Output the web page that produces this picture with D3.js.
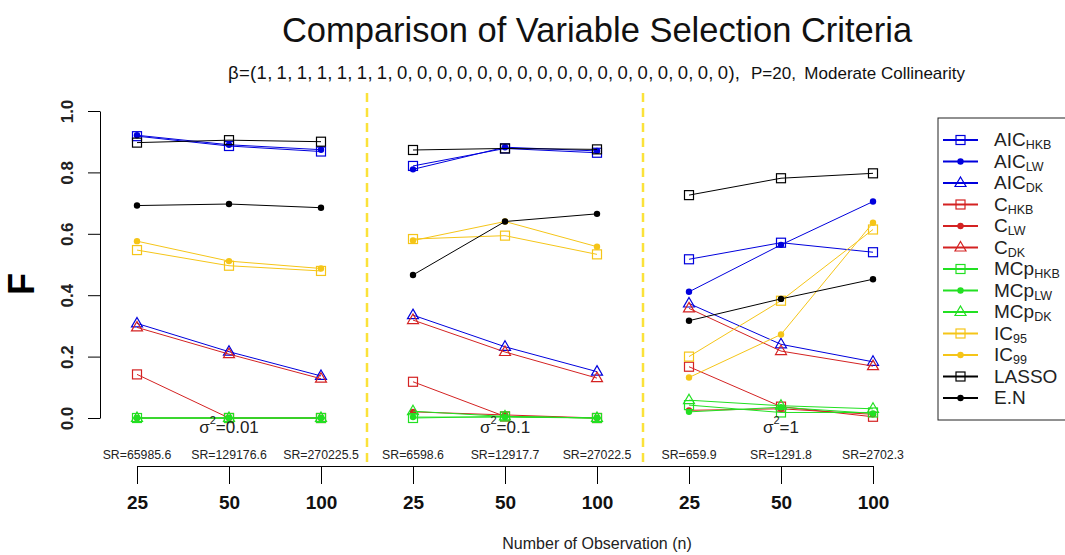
<!DOCTYPE html>
<html>
<head>
<meta charset="utf-8">
<script src="https://cdn.jsdelivr.net/npm/d3@7"></script>
<style>
  body { margin: 0; background: #fff; }
  text { font-family: "Liberation Sans", Arial, sans-serif; }
</style>
</head>
<body>
<svg width="1065" height="555"></svg>
<script>
// x positions: 3 sample sizes in each of 3 sigma panels
var nLabels = ["25", "50", "100", "25", "50", "100", "25", "50", "100"];
var srLabels = ["SR=65985.6", "SR=129176.6", "SR=270225.5",
                "SR=6598.6", "SR=12917.7", "SR=27022.5",
                "SR=659.9", "SR=1291.8", "SR=2702.3"];
var sigmaLabels = ["0.01", "0.1", "1"];
var yTicks = [0, 0.2, 0.4, 0.6, 0.8, 1.0];
var betaVec = [1, 1, 1, 1, 1, 1, 1, 0, 0, 0, 0, 0, 0, 0, 0, 0, 0, 0, 0, 0, 0, 0, 0, 0];

// F values
var aicHKB = [0.918, 0.886, 0.868, 0.821, 0.878, 0.864, 0.517, 0.571, 0.540];
var aicLW  = [0.921, 0.890, 0.874, 0.810, 0.882, 0.870, 0.411, 0.564, 0.705];
var aicDK  = [0.308, 0.216, 0.137, 0.335, 0.232, 0.151, 0.373, 0.240, 0.183];
var cHKB   = [0.142, 0.000, 0.000, 0.118, 0.005, 0.000, 0.167, 0.037, 0.004];
var cLW    = [0.000, 0.000, 0.000, 0.020, 0.010, 0.000, 0.025, 0.030, 0.012];
var cDK    = [0.295, 0.208, 0.128, 0.319, 0.215, 0.130, 0.357, 0.218, 0.169];
var mcpHKB = [0.000, 0.000, 0.000, 0.000, 0.005, 0.000, 0.042, 0.018, 0.018];
var mcpLW  = [0.000, 0.000, 0.000, 0.003, 0.003, 0.000, 0.020, 0.035, 0.015];
var mcpDK  = [0.000, 0.000, 0.000, 0.022, 0.005, 0.000, 0.058, 0.040, 0.030];
var ic95   = [0.547, 0.496, 0.479, 0.583, 0.594, 0.533, 0.200, 0.382, 0.614];
var ic99   = [0.576, 0.511, 0.487, 0.578, 0.640, 0.558, 0.132, 0.272, 0.636];
var lasso  = [0.897, 0.905, 0.900, 0.873, 0.878, 0.875, 0.726, 0.781, 0.797];
var en     = [0.692, 0.697, 0.685, 0.466, 0.640, 0.665, 0.317, 0.388, 0.452];

var blue = "#0000dd", red = "#d42222", green = "#22e022", gold = "#f5c518", black = "#000";

// name, subscript, values, colour, symbol
var series = [
  {name: "AIC", sub: "HKB", v: aicHKB, col: blue, pch: "sq"},
  {name: "AIC", sub: "LW", v: aicLW, col: blue, pch: "dot"},
  {name: "AIC", sub: "DK", v: aicDK, col: blue, pch: "tri"},
  {name: "C", sub: "HKB", v: cHKB, col: red, pch: "sq"},
  {name: "C", sub: "LW", v: cLW, col: red, pch: "dot"},
  {name: "C", sub: "DK", v: cDK, col: red, pch: "tri"},
  {name: "MCp", sub: "HKB", v: mcpHKB, col: green, pch: "sq"},
  {name: "MCp", sub: "LW", v: mcpLW, col: green, pch: "dot"},
  {name: "MCp", sub: "DK", v: mcpDK, col: green, pch: "tri"},
  {name: "IC", sub: "95", v: ic95, col: gold, pch: "sq"},
  {name: "IC", sub: "99", v: ic99, col: gold, pch: "dot"},
  {name: "LASSO", sub: "", v: lasso, col: black, pch: "sq"},
  {name: "E.N", sub: "", v: en, col: black, pch: "dot"}
];

var svg = d3.select("svg");

var x = d3.scaleLinear().domain([0, 8]).range([137, 873]);
var y = d3.scaleLinear().domain([0, 1]).range([418, 111]);
var axisY = 466;

// titles
svg.append("text").attr("x", 597).attr("y", 42).attr("text-anchor", "middle")
  .attr("font-size", 34.5).attr("fill", "#111").text("Comparison of Variable Selection Criteria");
// subtitle in three pieces (beta vector spaced like a plotmath list)
svg.append("text").attr("x", 228).attr("y", 79)
  .attr("font-size", 18.5).attr("fill", "#111")
  .attr("textLength", 512).attr("lengthAdjust", "spacing")
  .text("\u03b2=(" + betaVec.join(",\u2009") + "),");
svg.append("text").attr("x", 751).attr("y", 79)
  .attr("font-size", 17).attr("fill", "#111").text("P=20,");
svg.append("text").attr("x", 965).attr("y", 79).attr("text-anchor", "end")
  .attr("font-size", 17).attr("fill", "#111").text("Moderate Collinearity");

// dashed separators between panels
[2.5, 5.5].forEach(function(p) {
  svg.append("line")
    .attr("x1", x(p)).attr("x2", x(p))
    .attr("y1", 93).attr("y2", axisY)
    .attr("stroke", "#fbe23a").attr("stroke-width", 2.5)
    .attr("stroke-dasharray", "9,6");
});

// y axis
var gy = svg.append("g").attr("transform", "translate(100,0)")
  .call(d3.axisLeft(y).tickValues(yTicks).tickFormat(d3.format(".1f")).tickSize(12).tickSizeOuter(0));
gy.select(".domain").attr("stroke", "#000");
gy.selectAll("text")
  .attr("transform", "rotate(-90)")
  .attr("x", 0).attr("y", -33).attr("dy", "0.35em")
  .attr("text-anchor", "middle")
  .attr("font-size", 17).attr("font-weight", "bold")
  .attr("font-family", "Liberation Sans, Arial, sans-serif")
  .attr("fill", "#222");

svg.append("text")
  .attr("transform", "translate(34,284) rotate(-90)")
  .attr("text-anchor", "middle")
  .attr("font-size", 36).attr("font-weight", "bold").text("F");

// x axis
var gx = svg.append("g").attr("transform", "translate(0," + axisY + ")")
  .call(d3.axisBottom(x).tickValues(d3.range(9)).tickFormat(function(i) { return nLabels[i]; })
    .tickSize(18).tickSizeOuter(0));
gx.selectAll("text")
  .attr("y", 43).attr("dy", 0)
  .attr("font-size", 19).attr("font-weight", "bold")
  .attr("font-family", "Liberation Sans, Arial, sans-serif")
  .attr("fill", "#111");

svg.append("g").selectAll("text").data(srLabels).enter().append("text")
  .attr("x", function(d, i) { return x(i); })
  .attr("y", 459)
  .attr("text-anchor", "middle")
  .attr("font-size", 12.3).attr("fill", "#222")
  .text(function(d) { return d; });

svg.append("text").attr("x", 597).attr("y", 549).attr("text-anchor", "middle")
  .attr("font-size", 16).attr("fill", "#222").text("Number of Observation (n)");

// symbol drawing helper
function drawSymbol(g, pch, col, cx, cy) {
  if (pch === "sq") {
    g.append("rect").attr("x", cx - 4.5).attr("y", cy - 4.5).attr("width", 9).attr("height", 9)
      .attr("fill", "none").attr("stroke", col).attr("stroke-width", 1.2);
  } else if (pch === "dot") {
    g.append("circle").attr("cx", cx).attr("cy", cy).attr("r", 3.2).attr("fill", col);
  } else {
    g.append("path")
      .attr("d", "M" + cx + "," + (cy - 6) + "L" + (cx + 5.5) + "," + (cy + 3.5) + "L" + (cx - 5.5) + "," + (cy + 3.5) + "Z")
      .attr("fill", "none").attr("stroke", col).attr("stroke-width", 1.2);
  }
}

// series: one polyline per panel
var line = d3.line().x(function(d) { return x(d.i); }).y(function(d) { return y(d.v); });
var plot = svg.append("g");
series.forEach(function(s) {
  var g = plot.append("g");
  for (var p = 0; p < 3; p++) {
    var pts = [0, 1, 2].map(function(k) { return {i: p * 3 + k, v: s.v[p * 3 + k]}; });
    g.append("path").attr("d", line(pts)).attr("fill", "none")
      .attr("stroke", s.col).attr("stroke-width", 1);
  }
  s.v.forEach(function(v, i) { drawSymbol(g, s.pch, s.col, x(i), y(v)); });
});

// sigma labels
sigmaLabels.forEach(function(lab, p) {
  var t = svg.append("text").attr("x", x(p * 3 + 1)).attr("y", 433)
    .attr("text-anchor", "middle").attr("font-size", 17).attr("fill", "#222");
  t.append("tspan").text("\u03c3");
  t.append("tspan").attr("font-size", 11).attr("dy", -9).text("2");
  t.append("tspan").attr("dy", 9).text("=" + lab);
});

// legend
var lg = svg.append("g");
lg.append("rect").attr("x", 938).attr("y", 118).attr("width", 140).attr("height", 302)
  .attr("fill", "#fff").attr("stroke", "#222").attr("stroke-width", 1);
series.forEach(function(s, i) {
  var ly = 140 + i * 21.5;
  lg.append("line").attr("x1", 943).attr("x2", 978).attr("y1", ly).attr("y2", ly)
    .attr("stroke", s.col).attr("stroke-width", 2.2);
  drawSymbol(lg, s.pch, s.col, 960.5, ly);
  var t = lg.append("text").attr("x", 994).attr("y", ly + 6).attr("font-size", 19).attr("fill", "#222");
  t.append("tspan").text(s.name);
  if (s.sub) t.append("tspan").attr("font-size", 12.5).attr("dy", 3).text(s.sub);
});
</script>
</body>
</html>
